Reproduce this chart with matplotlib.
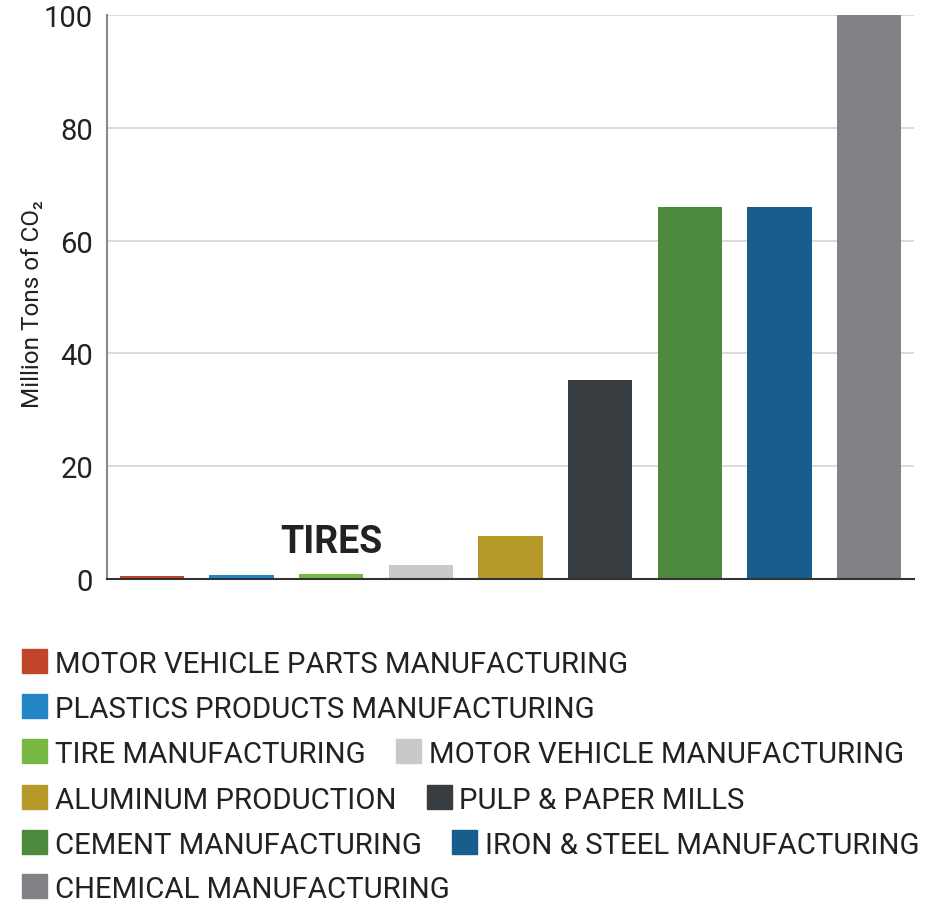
import matplotlib
matplotlib.use("Agg")
import matplotlib.pyplot as plt
from matplotlib.patches import Rectangle

industries = [
    "MOTOR VEHICLE PARTS MANUFACTURING",
    "PLASTICS PRODUCTS MANUFACTURING",
    "TIRE MANUFACTURING",
    "MOTOR VEHICLE MANUFACTURING",
    "ALUMINUM PRODUCTION",
    "PULP & PAPER MILLS",
    "CEMENT MANUFACTURING",
    "IRON & STEEL MANUFACTURING",
    "CHEMICAL MANUFACTURING",
]
emissions = [0.5, 0.65, 0.9, 2.5, 7.6, 35.3, 66, 66, 100]
colors = ["#C0452A", "#2586C7", "#77B943", "#C9C9C9", "#B59A2A",
          "#383D42", "#4E8A3E", "#175E8C", "#818286"]
yticks = [0, 20, 40, 60, 80, 100]
# legend rows (indices into industries)
legend_rows = [[0], [1], [2, 3], [4, 5], [6, 7], [8]]

plt.rcParams["font.family"] = ["Roboto", "DejaVu Sans"]

fig = plt.figure(figsize=(9.28, 9.04), dpi=100)
ax = fig.add_axes([107 / 928, 1 - 580 / 904, 807 / 928, 564 / 904])

x = range(len(industries))
ax.bar(x, emissions, width=0.715, color=colors, zorder=3)
ax.set_xlim(-0.5, len(industries) - 0.5)
ax.set_ylim(0, 100)
ax.set_yticks(yticks)
ax.set_yticklabels([str(t) for t in yticks], fontsize=21, color="#222222")
ax.set_xticks([])
ax.tick_params(axis="y", length=0, pad=10)
ax.grid(axis="y", color="#d4d4d4", linewidth=1.2, zorder=0)
for s in ["top", "right"]:
    ax.spines[s].set_visible(False)
ax.spines["left"].set_color("#8a8a8a")
ax.spines["left"].set_linewidth(1.5)
ax.spines["bottom"].set_color("#333333")
ax.spines["bottom"].set_linewidth(1.5)
ax.spines["bottom"].set_zorder(4)
ax.set_ylabel("Million Tons of CO\u2082", fontsize=17.5, color="#222222")
ax.yaxis.set_label_coords(-63 / 807, 0.49)

ax.text(2, 4.8, "TIRES", ha="center", va="baseline", fontsize=27,
        fontweight="bold", color="#222222")

# legend built by hand: square + text, rows with one or two entries
fig.canvas.draw()
renderer = fig.canvas.get_renderer()
W, H = 928, 904
row_y = [662, 707, 752, 798, 843, 887]
for yc, row in zip(row_y, legend_rows):
    xpos = 22
    for idx in row:
        fig.patches.append(Rectangle((xpos / W, 1 - (yc + 12) / H), 25 / W, 24 / H,
                                     transform=fig.transFigure, color=colors[idx]))
        t = fig.text((xpos + 33) / W, 1 - yc / H, industries[idx], fontsize=21.2,
                     va="center_baseline", ha="left", color="#222222")
        bb = t.get_window_extent(renderer)
        xpos = bb.x1 + 30

fig.savefig("out.png", dpi=100)
